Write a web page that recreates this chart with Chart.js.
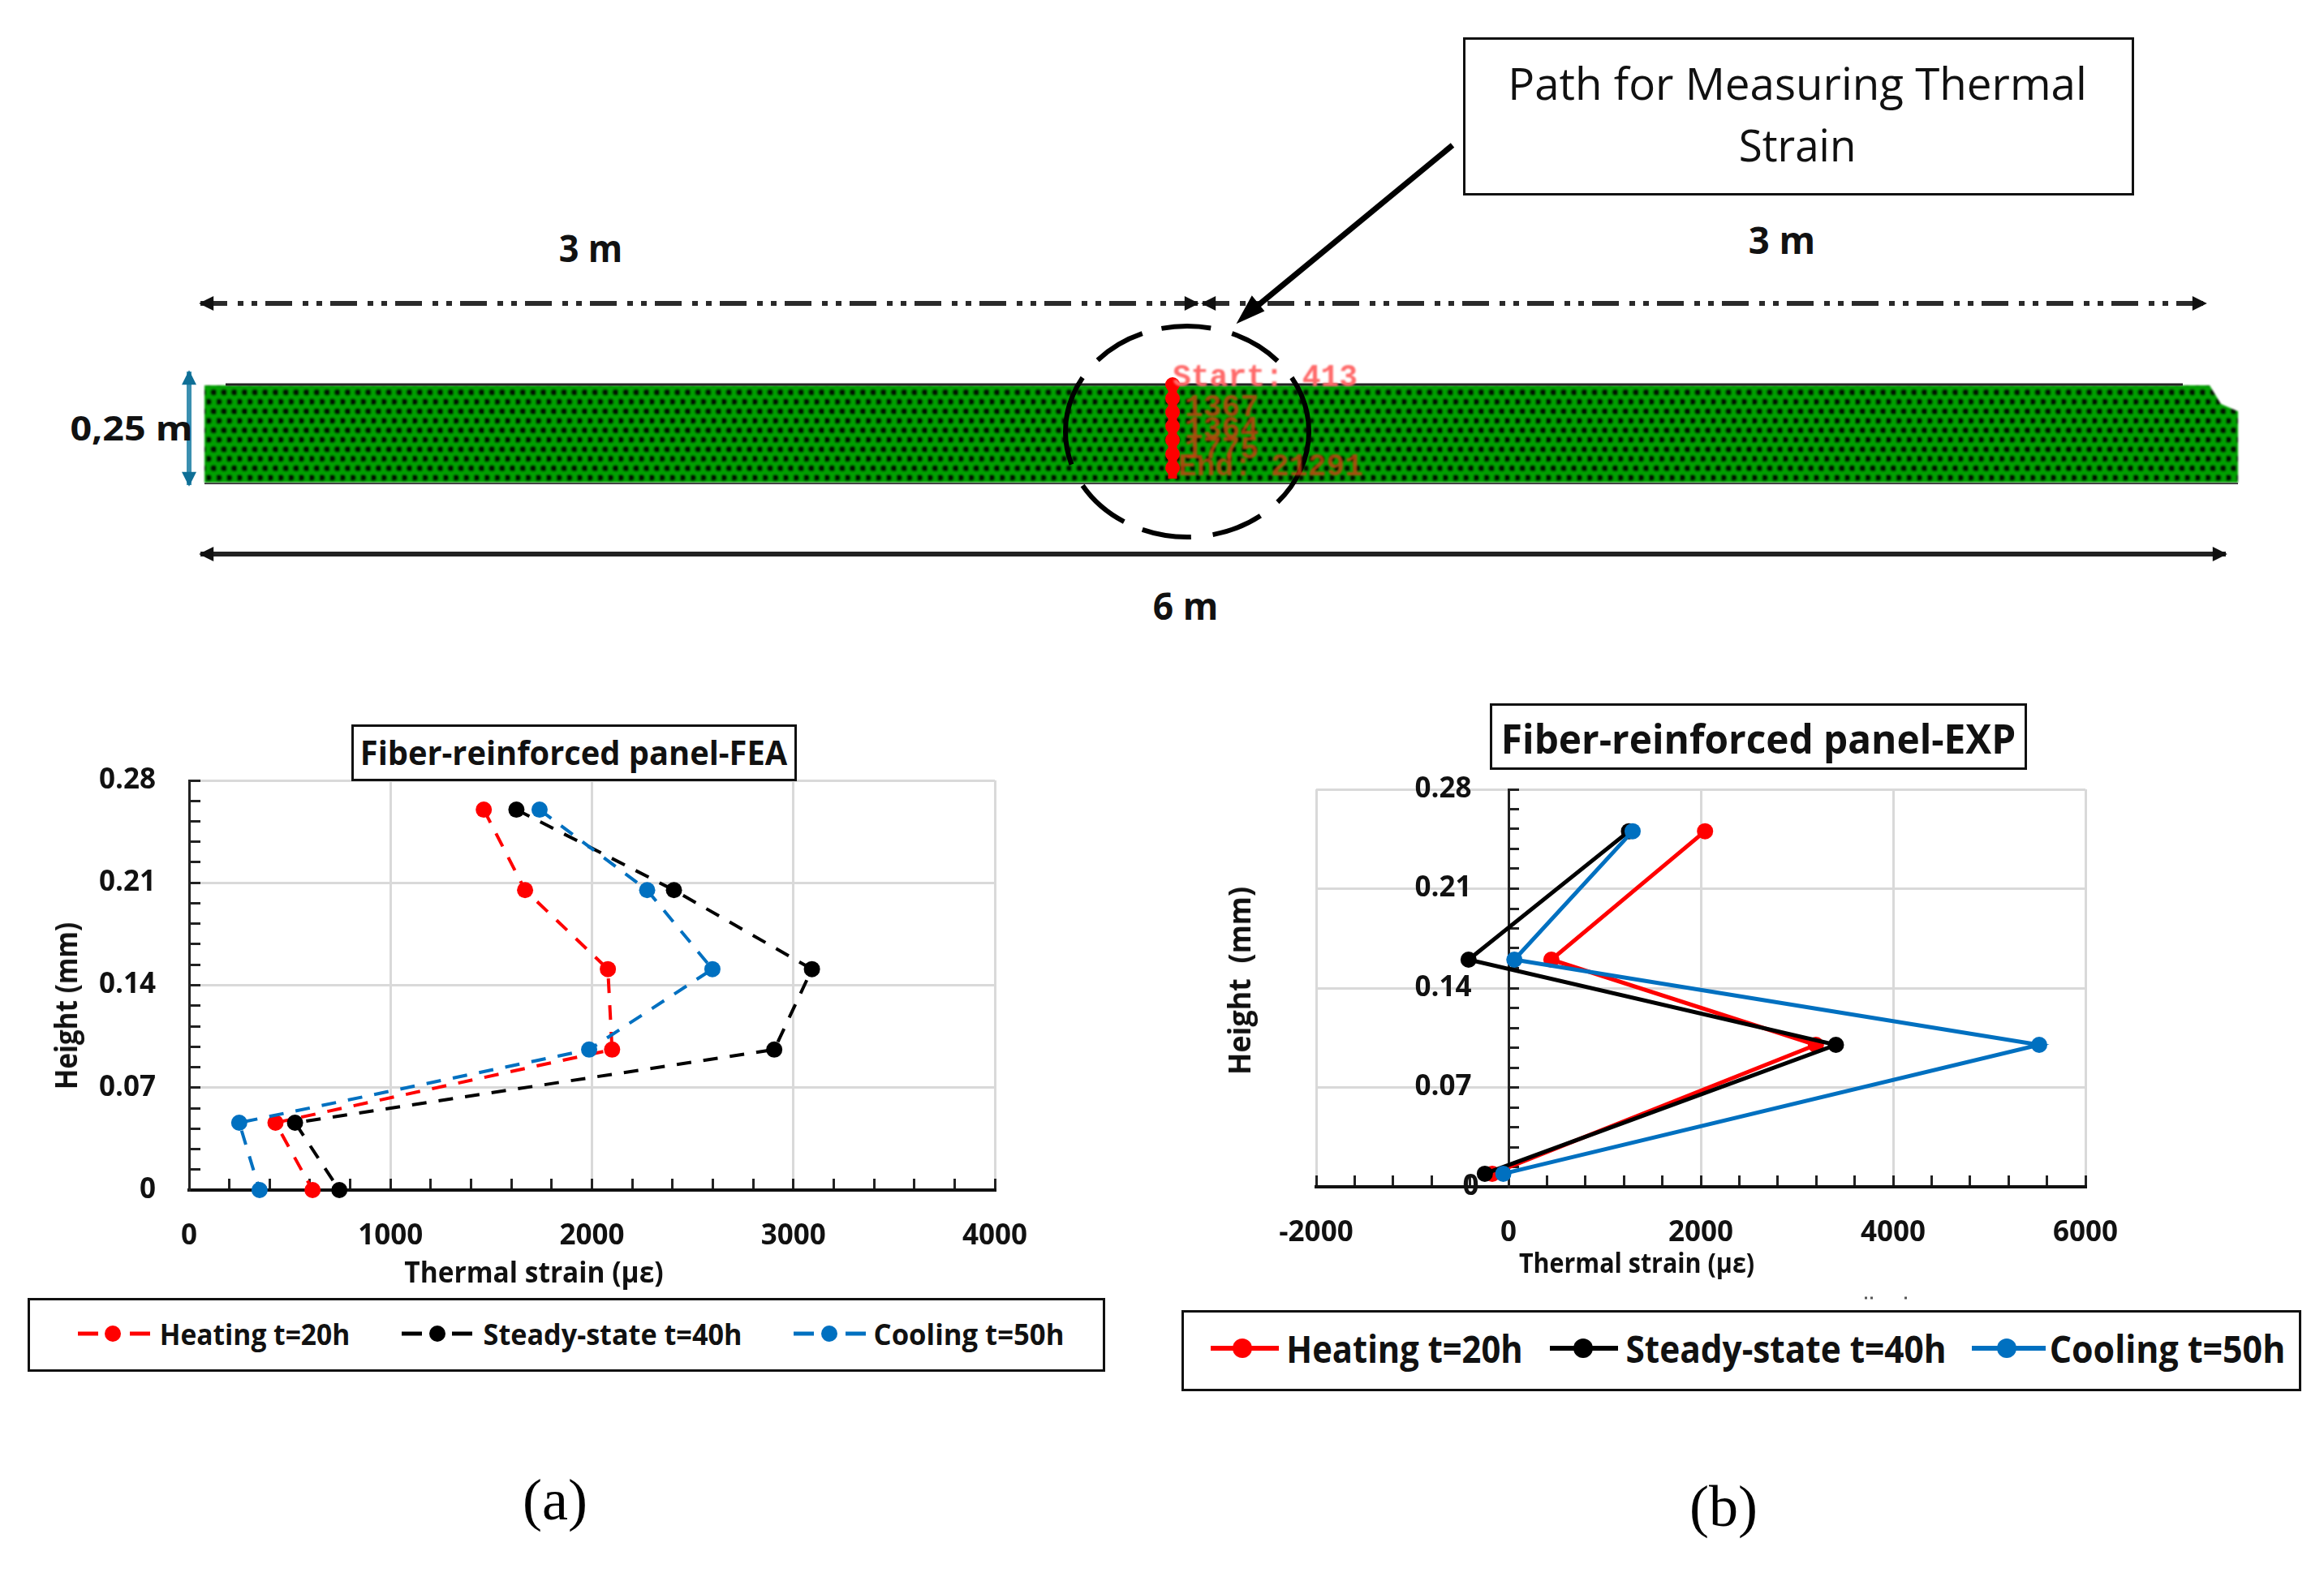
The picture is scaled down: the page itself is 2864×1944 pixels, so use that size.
<!DOCTYPE html>
<html>
<head>
<meta charset="utf-8">
<title>Thermal strain</title>
<script src="https://cdn.jsdelivr.net/npm/chart.js@4"></script>
<style>
    html, body { margin: 0; background: #fff; }
    #page { position: relative; width: 2864px; height: 1944px; overflow: hidden; font-family: 'Open Sans', sans-serif; color: #111; }
    canvas { position: absolute; left: 0; top: 0; }
    svg { position: absolute; left: 0; top: 0; }
    .t { position: absolute; white-space: nowrap; transform: translate(-50%, -50%); font-weight: bold; }
    .box { position: absolute; box-sizing: border-box; background: #fff; border: 3px solid #111; }
    .serif { font-family: 'Liberation Serif', serif; font-weight: normal; font-size: 72px; color: #000; }
</style>
</head>
<body>
<div id="page">
    <svg width="2864" height="1944" xmlns="http://www.w3.org/2000/svg">
        <defs>
            <pattern id="mesh" width="12.7" height="23.4" patternUnits="userSpaceOnUse">
                <rect width="12.7" height="23.4" fill="#00a000"/>
                <circle cx="3" cy="4" r="3.9" fill="#011201"/>
                <circle cx="9.35" cy="15.7" r="3.9" fill="#011201"/>
            </pattern>
            <filter id="soft"><feGaussianBlur stdDeviation="1"/></filter>
            <marker id="ah" viewBox="0 0 10 10" refX="9" refY="5" markerWidth="3.6" markerHeight="3" orient="auto-start-reverse"><path d="M0 0L10 5L0 10z" fill="#111"/></marker>
            <marker id="ahb" viewBox="0 0 10 10" refX="9" refY="5" markerWidth="3.4" markerHeight="3" orient="auto-start-reverse"><path d="M0 0L10 5L0 10z" fill="#0f6f96"/></marker>
        </defs>
        <path d="M252 475H2723L2737 498L2758 507V595H252z" fill="url(#mesh)" filter="url(#soft)"/>
        <path d="M278 474H2690" stroke="#222" stroke-width="3"/>
        <path d="M252 596H2758" stroke="#444" stroke-width="2"/>
        <line x1="247" y1="374" x2="1476" y2="374" stroke="#2a2a2a" stroke-width="6" stroke-dasharray="33 13 7 10 7 10" marker-start="url(#ah)" marker-end="url(#ah)"/>
        <line x1="1482" y1="374" x2="2718" y2="374" stroke="#2a2a2a" stroke-width="6" stroke-dasharray="33 13 7 10 7 10" marker-start="url(#ah)" marker-end="url(#ah)"/>
        <line x1="247" y1="683" x2="2743" y2="683" stroke="#222" stroke-width="6" marker-start="url(#ah)" marker-end="url(#ah)"/>
        <line x1="233" y1="458" x2="233" y2="598" stroke="#3a8fb0" stroke-width="6" marker-start="url(#ahb)" marker-end="url(#ahb)"/>
        <ellipse cx="1463" cy="532" rx="150" ry="130" fill="none" stroke="#000" stroke-width="6" pathLength="360"
                 stroke-dasharray="40 11 26 11 25 10 28 12 46 11.6 26.4 10 25 11 27 11 29 0"/>
        <path d="M1790 179L1540 385" stroke="#000" stroke-width="7"/>
        <path d="M1527 396L1543 367L1556 383z" fill="#000" stroke="#000" stroke-width="3"/>
        <path d="M1445 472V590" stroke="#ff0000" stroke-width="11"/>
        <path d="M1445 474V592" stroke="#ff0000" stroke-width="18" stroke-dasharray="0.1 17" stroke-linecap="round"/>
        <g font-family="'Liberation Mono',monospace" font-weight="bold" font-size="38" filter="url(#soft)">
            <text x="1445" y="476" fill="#ff6a6a">Start: 413</text>
            <text x="1460" y="513" fill="#c8400a" opacity=".8">1367</text>
            <text x="1460" y="540" fill="#c8400a" opacity=".8">1364</text>
            <text x="1460" y="565" fill="#c8400a" opacity=".8">1775</text>
            <text x="1452" y="586" fill="#c8400a" opacity=".8">End: 21291</text>
        </g>
        <path d="M2298 1600h3M2305 1600h3M2347 1600h3" stroke="#555" stroke-width="3"/>
    </svg>

    <canvas id="feaChart" width="1440" height="880" style="left:0;top:860px"></canvas>
    <canvas id="expChart" width="1424" height="880" style="left:1440px;top:860px"></canvas>

    <div class="box" style="left:1803px;top:46px;width:827px;height:195px"></div>
    <div class="t" data-w="713" style="left:2215px;top:102px;font-size:54px;font-weight:normal">Path for Measuring Thermal</div>
    <div class="t" data-w="145" style="left:2215px;top:178px;font-size:54px;font-weight:normal">Strain</div>
    <div class="t" data-w="78" style="left:728px;top:305px;font-size:46px">3 m</div>
    <div class="t" data-w="82" style="left:2196px;top:295px;font-size:46px">3 m</div>
    <div class="t" data-w="151" style="left:162px;top:526px;font-size:42px">0,25 m</div>
    <div class="t" data-w="80" style="left:1461px;top:746px;font-size:46px">6 m</div>

    <div class="box" style="left:433px;top:893px;width:549px;height:70px"></div>
    <div class="t" data-w="526" style="left:707px;top:927px;font-size:41px">Fiber-reinforced panel-FEA</div>
    <div class="t" data-w="319" style="left:658px;top:1567px;font-size:36px">Thermal strain (με)</div>
    <div class="t" data-w="206" data-rot="1" style="left:80px;top:1240px;font-size:38px">Height (mm)</div>

    <div class="box" style="left:1836px;top:867px;width:662px;height:82px"></div>
    <div class="t" data-w="634" style="left:2167px;top:910px;font-size:50px">Fiber-reinforced panel-EXP</div>
    <div class="t" data-w="290" style="left:2017px;top:1556px;font-size:34px">Thermal strain (με)</div>
    <div class="t" data-w="232" data-rot="1" style="left:1526px;top:1209px;font-size:38px;white-space:pre">Height  (mm)</div>

    <div class="box" style="left:34px;top:1600px;width:1328px;height:91px"></div>
    <div class="box" style="left:1456px;top:1615px;width:1380px;height:100px"></div>

    <div class="t serif" style="left:684px;top:1849px">(a)</div>
    <div class="t serif" style="left:2124px;top:1857px">(b)</div>
</div>

<script>
// chart values
const seriesNames = ['Heating t=20h', 'Steady-state t=40h', 'Cooling t=50h'];
const seriesColors = ['#ff0000', '#000000', '#0070c0'];

const feaHeights = [0.26, 0.205, 0.151, 0.096, 0.046, 0];
const feaHeating = [1463, 1668, 2079, 2100, 429, 613];
const feaSteady = [1625, 2407, 3092, 2905, 526, 746];
const feaCooling = [1740, 2274, 2598, 1986, 249, 350];

const expHeights = [0.2505, 0.16, 0.10, 0.0092];
const expHeating = [2044, 446, 3197, -169];
const expSteady = [1253, -415, 3405, -246];
const expCooling = [1291, 61, 5519, -54];

const heightMajor = [0, 0.07, 0.14, 0.21, 0.28];

const tickFont = 'Open Sans';

function toPoints(xs, ys) {
    return xs.map((x, i) => ({ x, y: ys[i] }));
}

function makeDataset(i, xs, ys, dash, width) {
    return {
        label: seriesNames[i],
        data: toPoints(xs, ys),
        showLine: true,
        clip: false,
        borderColor: seriesColors[i],
        backgroundColor: seriesColors[i],
        borderWidth: width,
        borderDash: dash,
        pointRadius: 10,
        pointBorderWidth: 0,
        order: 3 - i
    };
}

function makeChart(id, datasets, cfg) {
    return new Chart(document.getElementById(id), {
        type: 'scatter',
        data: { datasets },
        options: {
            responsive: false,
            animation: false,
            layout: { padding: cfg.padding },
            plugins: { legend: { display: false }, tooltip: { enabled: false } },
            scales: {
                x: {
                    type: 'linear',
                    min: cfg.xMin,
                    max: cfg.xMax,
                    afterFit: s => { s.height = cfg.axisHeight; },
                    border: { color: '#111', width: 4 },
                    grid: {
                        lineWidth: 3,
                        tickLength: -14,
                        tickWidth: 3,
                        tickColor: '#222',
                        // the line at x=0 would paint over the height axis
                        color: c => (c.tick && c.tick.value !== 0 && c.tick.value % cfg.xMajor === 0) ? '#d9d9d9' : 'rgba(0,0,0,0)'
                    },
                    ticks: {
                        stepSize: cfg.xStep,
                        autoSkip: false,
                        maxRotation: 0,
                        padding: cfg.xPad,
                        color: '#111',
                        font: { family: tickFont, weight: 'bold', size: cfg.tickSize },
                        callback: v => v % cfg.xMajor === 0 ? String(v) : ''
                    }
                },
                y: {
                    type: 'linear',
                    min: 0,
                    max: 0.28,
                    position: cfg.yPos,
                    afterFit: s => { s.width = cfg.axisWidth; },
                    border: { color: '#222', width: 3 },
                    grid: {
                        lineWidth: 3,
                        tickLength: -14,
                        tickWidth: 3,
                        tickColor: '#222',
                        color: c => (c.tick && c.tick.value > 0 && heightMajor.some(h => Math.abs(h - c.tick.value) < 1e-6)) ? '#d9d9d9' : 'rgba(0,0,0,0)'
                    },
                    ticks: {
                        stepSize: 0.014,
                        autoSkip: false,
                        padding: cfg.yPad,
                        color: '#111',
                        font: { family: tickFont, weight: 'bold', size: cfg.tickSize },
                        // padding is ignored for an axis placed at x=0, so labels are pushed off it with spaces
                        callback: v => {
                            const hit = heightMajor.find(h => Math.abs(h - v) < 1e-6);
                            if (hit === undefined) return '';
                            return hit === 0 ? '0' + cfg.zeroTrail : hit.toFixed(2) + cfg.yTrail;
                        }
                    }
                }
            }
        }
    });
}

makeChart('feaChart', [
    makeDataset(0, feaHeating, feaHeights, [18, 15], 4),
    makeDataset(1, feaSteady, feaHeights, [18, 15], 4),
    makeDataset(2, feaCooling, feaHeights, [18, 15], 4)
], {
    padding: { left: 0, right: 214, top: 102, bottom: 10 },
    xMin: 0, xMax: 4000, xMajor: 1000, xStep: 200,
    axisWidth: 233, axisHeight: 263, xPad: 50, yPad: 55,
    yPos: 'left', yTrail: '', zeroTrail: '', tickSize: 35
});

makeChart('expChart', [
    makeDataset(0, expHeating, expHeights, [], 5),
    makeDataset(1, expSteady, expHeights, [], 5),
    makeDataset(2, expCooling, expHeights, [], 5)
], {
    padding: { left: 182, right: 294, top: 113, bottom: 10 },
    xMin: -2000, xMax: 6000, xMajor: 2000, xStep: 400,
    axisWidth: 0, axisHeight: 267, xPad: 50, yPad: 0,
    yPos: { x: 0 }, yTrail: '\u00A0\u00A0\u00A0\u00A0\u00A0', zeroTrail: '\u00A0\u00A0\u00A0\u00A0', tickSize: 35
});

// legends, built from the same names and colours
const svgNS = 'http://www.w3.org/2000/svg';
function addLegend(items, y, dashed, lineW, textSize, r) {
    const page = document.getElementById('page');
    const svg = document.createElementNS(svgNS, 'svg');
    svg.setAttribute('width', 2864);
    svg.setAttribute('height', 1944);
    items.forEach((it, i) => {
        const segs = dashed ? [[it.x1, it.x1 + 25], [it.x2 - 25, it.x2]] : [[it.x1, it.x2]];
        segs.forEach(seg => {
            const line = document.createElementNS(svgNS, 'line');
            line.setAttribute('x1', seg[0]);
            line.setAttribute('x2', seg[1]);
            line.setAttribute('y1', y);
            line.setAttribute('y2', y);
            line.setAttribute('stroke', seriesColors[i]);
            line.setAttribute('stroke-width', lineW);
            svg.appendChild(line);
        });
        const dot = document.createElementNS(svgNS, 'circle');
        dot.setAttribute('cx', it.mx);
        dot.setAttribute('cy', y);
        dot.setAttribute('r', r);
        dot.setAttribute('fill', seriesColors[i]);
        svg.appendChild(dot);
        const label = document.createElement('div');
        label.className = 'legend-text t';
        label.dataset.w = it.tw;
        label.style.left = (it.tx + it.tw / 2) + 'px';
        label.style.top = y + 'px';
        label.style.fontSize = textSize + 'px';
        label.textContent = seriesNames[i];
        page.appendChild(label);
    });
    page.appendChild(svg);
}

addLegend([
    { x1: 96, x2: 185, mx: 139, tx: 196, tw: 235 },
    { x1: 495, x2: 582, mx: 539, tx: 595, tw: 319 },
    { x1: 978, x2: 1067, mx: 1022, tx: 1076, tw: 235 }
], 1644, true, 5, 36, 10);

addLegend([
    { x1: 1492, x2: 1576, mx: 1531, tx: 1585, tw: 291 },
    { x1: 1910, x2: 1994, mx: 1951, tx: 2003, tw: 395 },
    { x1: 2430, x2: 2521, mx: 2473, tx: 2525, tw: 291 }
], 1662, false, 6, 46, 12);

// squeeze the text to the width it has in the figure
document.querySelectorAll('[data-w]').forEach(el => {
    const k = Number(el.dataset.w) / el.offsetWidth;
    const rot = el.dataset.rot ? 'rotate(-90deg) ' : '';
    el.style.transform = `translate(-50%, -50%) ${rot}scaleX(${k})`;
});
</script>
</body>
</html>
